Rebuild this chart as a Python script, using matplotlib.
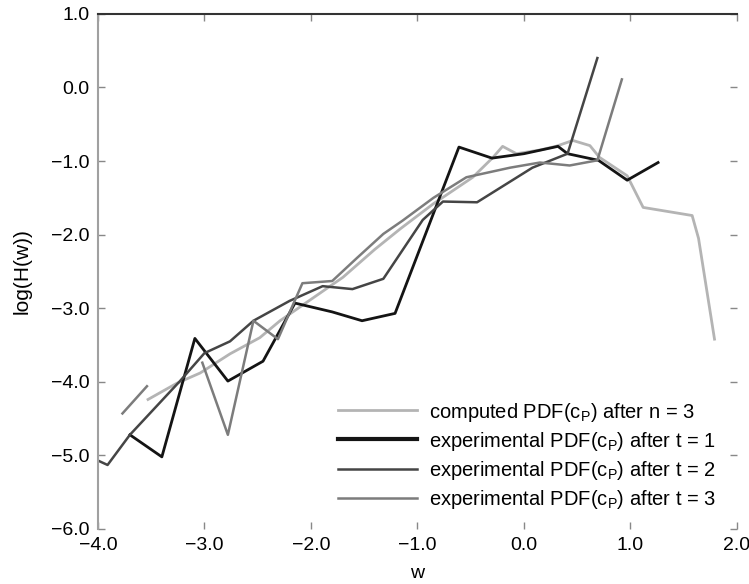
import numpy as np
import matplotlib
matplotlib.use("Agg")
import matplotlib.pyplot as plt

plt.rcParams['font.family'] = ['Liberation Sans', 'DejaVu Sans']
plt.rcParams['mathtext.fontset'] = 'custom'
plt.rcParams['mathtext.rm'] = 'Liberation Sans'
plt.rcParams['mathtext.it'] = 'Liberation Sans:italic'

# computed PDF after n = 3
w_comp = [-3.53, -3.26, -3.04, -2.76, -2.48, -2.29, -2.00, -1.70, -1.40, -1.16, -0.85,
          -0.48, -0.29, -0.20, -0.07, 0.15, 0.30, 0.46, 0.62, 0.71, 0.97, 1.12, 1.58,
          1.64, 1.79]
h_comp = [-4.24, -4.02, -3.88, -3.62, -3.40, -3.17, -2.88, -2.58, -2.20, -1.92, -1.58,
          -1.22, -0.95, -0.80, -0.90, -0.85, -0.80, -0.72, -0.79, -0.95, -1.20, -1.63,
          -1.74, -2.05, -3.42]

# experimental PDF after t = 1
w_t1 = [-3.70, -3.40, -3.09, -2.78, -2.45, -2.15, -1.80, -1.52, -1.21, -0.61, -0.30,
        0.00, 0.32, 0.41, 0.70, 0.97, 1.26]
h_t1 = [-4.72, -5.02, -3.41, -3.99, -3.72, -2.93, -3.05, -3.17, -3.07, -0.81, -0.96,
        -0.90, -0.80, -0.90, -0.99, -1.26, -1.02]

# experimental PDF after t = 2
w_t2 = [-4.00, -3.91, -3.70, -3.23, -3.00, -2.76, -2.54, -2.20, -1.89, -1.61, -1.32,
        -0.95, -0.76, -0.44, 0.08, 0.41, 0.69]
h_t2 = [-5.07, -5.13, -4.72, -3.99, -3.61, -3.45, -3.17, -2.90, -2.70, -2.74, -2.60,
        -1.80, -1.55, -1.56, -1.09, -0.90, 0.40]

# experimental PDF after t = 3 (gap between -3.54 and -3.02)
w_t3 = [-3.77, -3.54, np.nan, -3.02, -2.78, -2.54, -2.31, -2.08, -1.80, -1.57, -1.32,
        -1.14, -0.85, -0.54, -0.13, 0.15, 0.43, 0.69, 0.92]
h_t3 = [-4.43, -4.06, np.nan, -3.74, -4.72, -3.17, -3.42, -2.66, -2.63, -2.32, -1.99,
        -1.81, -1.50, -1.22, -1.09, -1.02, -1.06, -0.99, 0.11]

labels = [r"computed PDF(c$_\mathrm{P}$) after n = 3",
          r"experimental PDF(c$_\mathrm{P}$) after t = 1",
          r"experimental PDF(c$_\mathrm{P}$) after t = 2",
          r"experimental PDF(c$_\mathrm{P}$) after t = 3"]

xticks = [-4.0, -3.0, -2.0, -1.0, 0.0, 1.0, 2.0]
yticks = [1.0, 0.0, -1.0, -2.0, -3.0, -4.0, -5.0, -6.0]

fig = plt.figure(figsize=(7.49, 5.84), dpi=100)
ax = fig.add_axes([0.1308, 0.0942, 0.853, 0.882])

ax.plot(w_comp, h_comp, color="#b4b4b4", lw=2.0, label=labels[0])
ax.plot(w_t1, h_t1, color="#141414", lw=2.0, label=labels[1])
ax.plot(w_t2, h_t2, color="#454545", lw=1.8, label=labels[2])
ax.plot(w_t3, h_t3, color="#7c7c7c", lw=1.8, label=labels[3])

ax.set_xlim(-4.0, 2.0)
ax.set_ylim(-6.0, 1.0)
ax.set_xticks(xticks)
ax.set_yticks(yticks)
ax.set_xticklabels([f"{v:.1f}".replace("-", "\u2212") for v in xticks])
ax.set_yticklabels([f"{v:.1f}".replace("-", "\u2212") for v in yticks])

ax.spines['bottom'].set_visible(False)
ax.spines['right'].set_visible(False)
ax.spines['left'].set_color("#a0a0a0")
ax.spines['left'].set_linewidth(1.5)
ax.spines['top'].set_color("#333333")
ax.spines['top'].set_linewidth(1.5)
ax.tick_params(direction='in', top=True, right=True, length=5, width=1,
               color="#888888", labelsize=14, pad=6)

ax.set_xlabel("w", fontsize=14, labelpad=8)
ax.set_ylabel("log(H(w))", fontsize=15, labelpad=14)

leg = ax.legend(loc="lower right", bbox_to_anchor=(0.98, 0.02), borderaxespad=0,
                frameon=False, fontsize=14.5, handlelength=3.9, handletextpad=0.6,
                labelspacing=0.3)
leg.get_lines()[1].set_linewidth(3.0)

fig.savefig("out.png", dpi=100)
